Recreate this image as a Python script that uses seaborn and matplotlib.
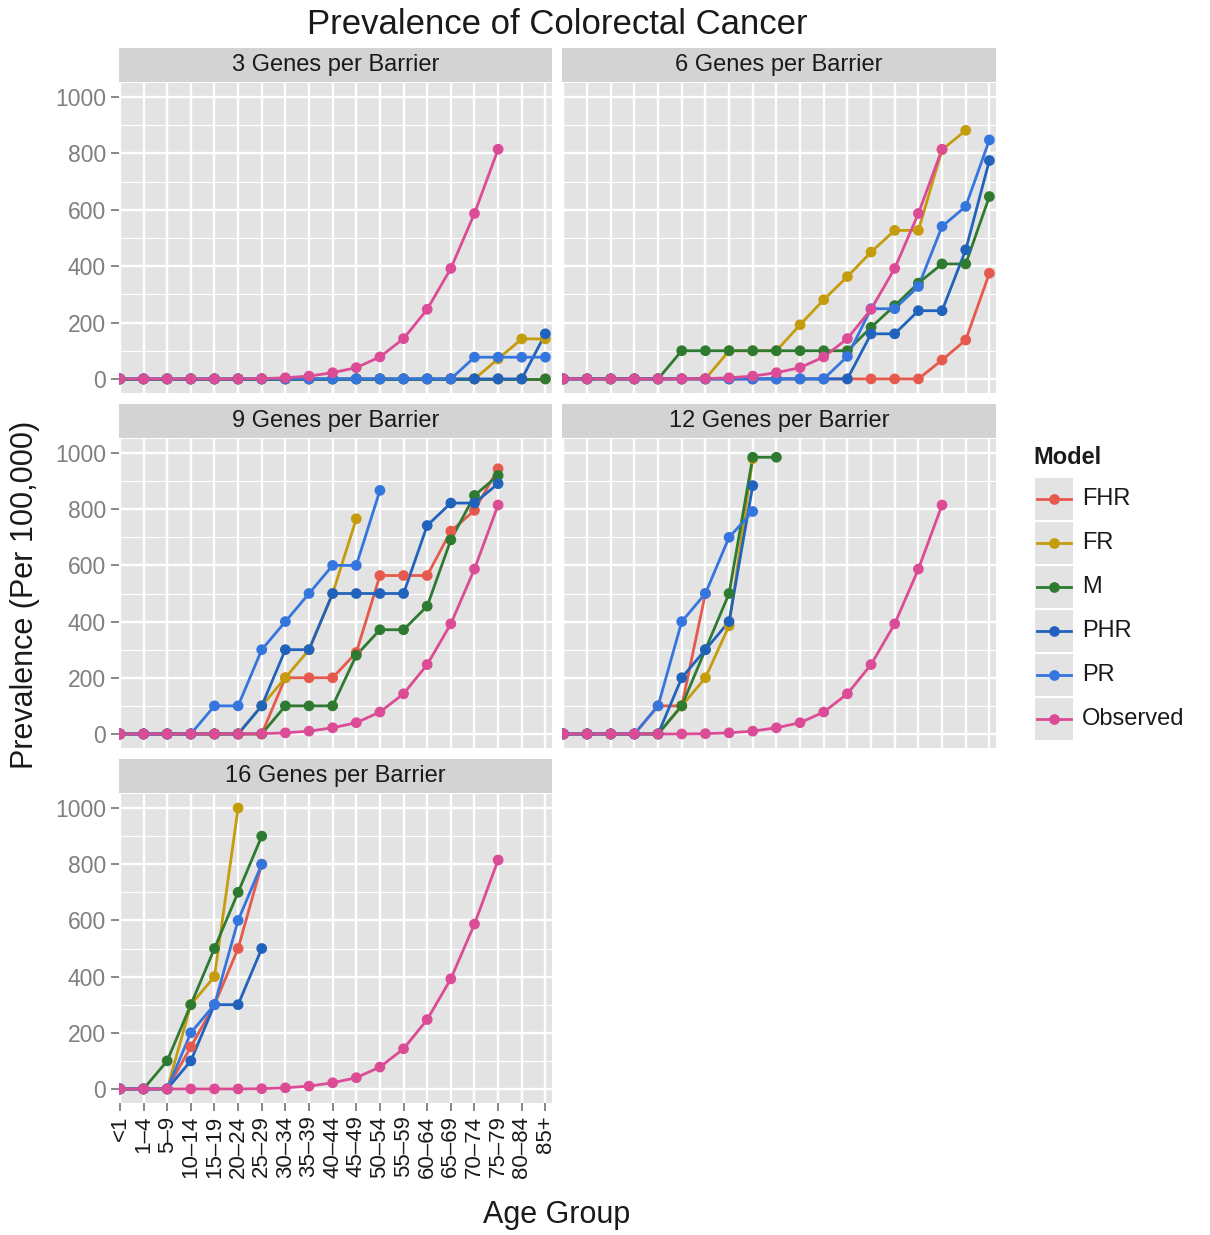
import numpy as np
import pandas as pd
import matplotlib
matplotlib.use("Agg")
import matplotlib.pyplot as plt
from matplotlib.patches import Rectangle
import seaborn as sns

plt.rcParams["font.family"] = ["Liberation Sans", "DejaVu Sans"]

nan = np.nan

# Age groups on the x axis
age_groups = ["<1", "1–4", "5–9", "10–14", "15–19", "20–24", "25–29", "30–34",
              "35–39", "40–44", "45–49", "50–54", "55–59", "60–64", "65–69",
              "70–74", "75–79", "80–84", "85+"]

models = ["FHR", "FR", "M", "PHR", "PR", "Observed"]
palette = {"FHR": "#E65A4E", "FR": "#C49C0E", "M": "#2E7A30",
           "PHR": "#2163BC", "PR": "#3575DE", "Observed": "#DC4B96"}

panel_titles = ["3 Genes per Barrier", "6 Genes per Barrier", "9 Genes per Barrier",
                "12 Genes per Barrier", "16 Genes per Barrier"]

# Observed prevalence (per 100,000), same in every panel
observed = [0, 0, 0, 0, 0, 0, 1, 4, 10, 22, 40, 78, 143, 247, 392, 587, 815, nan, nan]

# 3 genes per barrier
g3_fhr = [0] * 19
g3_fr = [0] * 16 + [71, 142, 142]
g3_m = [0] * 19
g3_phr = [0] * 18 + [160]
g3_pr = [0] * 15 + [77, 77, 77, 77]

# 6 genes per barrier
g6_fhr = [0] * 16 + [67, 138, 375]
g6_fr = [0] * 7 + [100, 100, 100, 192, 281, 363, 450, 527, 527, 813, 882, nan]
g6_m = [0] * 5 + [100] * 8 + [183, 260, 340, 408, 408, 647]
g6_phr = [0] * 13 + [160, 160, 242, 242, 458, 775]
g6_pr = [0] * 12 + [80, 249, 249, 328, 541, 612, 848]

# 9 genes per barrier
g9_fhr = [0] * 7 + [200, 200, 200, 290, 564, 564, 564, 722, 796, 944, nan, nan]
g9_fr = [0] * 6 + [100, 200, 300, 500, 766] + [nan] * 8
g9_m = [0] * 7 + [100, 100, 100, 280, 371, 371, 455, 691, 849, 920, nan, nan]
g9_phr = [0] * 6 + [100, 300, 300, 500, 500, 500, 500, 742, 822, 822, 891, nan, nan]
g9_pr = [0] * 4 + [100, 100, 300, 400, 500, 600, 600, 867] + [nan] * 7

# 12 genes per barrier
g12_fhr = [0] * 4 + [100, 100, 500] + [nan] * 12
g12_fr = [0] * 5 + [100, 200, 385, 980] + [nan] * 10
g12_m = [0] * 5 + [100, 300, 500, 985, 985] + [nan] * 9
g12_phr = [0] * 5 + [200, 300, 400, 884] + [nan] * 10
g12_pr = [0] * 4 + [100, 400, 500, 700, 792] + [nan] * 10

# 16 genes per barrier
g16_fhr = [0] * 3 + [150, 300, 500, 800] + [nan] * 12
g16_fr = [0] * 3 + [300, 400, 1000] + [nan] * 13
g16_m = [0] * 2 + [100, 300, 500, 700, 900] + [nan] * 12
g16_phr = [0] * 3 + [100, 300, 300, 500] + [nan] * 12
g16_pr = [0] * 3 + [200, 300, 600, 800] + [nan] * 12

panel_series = [
    [g3_fhr, g3_fr, g3_m, g3_phr, g3_pr, observed],
    [g6_fhr, g6_fr, g6_m, g6_phr, g6_pr, observed],
    [g9_fhr, g9_fr, g9_m, g9_phr, g9_pr, observed],
    [g12_fhr, g12_fr, g12_m, g12_phr, g12_pr, observed],
    [g16_fhr, g16_fr, g16_m, g16_phr, g16_pr, observed],
]

rows = []
for title, series in zip(panel_titles, panel_series):
    for model, vals in zip(models, series):
        for i, v in enumerate(vals):
            rows.append({"Panel": title, "Model": model, "pos": i,
                         "Age": age_groups[i], "Prevalence": v})
df = pd.DataFrame(rows).dropna()

W, H = 1210, 1235
fig = plt.figure(figsize=(W / 100, H / 100), dpi=100)


def rect(left, top, right, bottom):
    return [left / W, 1 - bottom / H, (right - left) / W, (bottom - top) / H]


col_x = [(118.5, 552), (562, 996)]
row_y = [(83, 393), (439, 748), (794, 1103)]
strip_h = 35
panel_bg = "#E3E3E3"
strip_bg = "#D3D3D3"

for k, title in enumerate(panel_titles):
    r, c = divmod(k, 2)
    left, right = col_x[c]
    top, bottom = row_y[r]

    # facet strip
    sax = fig.add_axes(rect(left, top - strip_h, right, top - 1))
    sax.set_facecolor(strip_bg)
    sax.set_xticks([]); sax.set_yticks([])
    for s in sax.spines.values():
        s.set_visible(False)
    sax.text(0.5, 0.5, title, ha="center", va="center", fontsize=17,
             color="#1A1A1A", transform=sax.transAxes)

    ax = fig.add_axes(rect(left, top, right, bottom))
    ax.set_facecolor(panel_bg)
    sub = df[df["Panel"] == title]
    sns.lineplot(data=sub, x="pos", y="Prevalence", hue="Model", hue_order=models,
                 palette=palette, linewidth=2.0, estimator=None, legend=False, ax=ax)
    sns.scatterplot(data=sub, x="pos", y="Prevalence", hue="Model", hue_order=models,
                    palette=palette, s=60, linewidth=0, legend=False, ax=ax, zorder=3)

    ax.set_xlim(-0.06, 18.28)
    ax.set_ylim(-50, 1050)
    ax.set_xticks(range(len(age_groups)))
    ax.set_yticks(range(0, 1001, 200))
    ax.set_yticks(range(100, 1000, 200), minor=True)
    ax.set_axisbelow(True)
    ax.grid(which="major", color="white", linewidth=1.7)
    ax.grid(which="minor", axis="y", color="white", linewidth=0.8)
    for s in ax.spines.values():
        s.set_visible(False)
    ax.set_xlabel("")
    ax.set_ylabel("")
    ax.tick_params(which="minor", length=0)

    if c == 0:
        ax.tick_params(axis="y", which="major", length=6, width=1.3, color="#7F7F7F",
                       labelsize=16.5, labelcolor="#7F7F7F", pad=3)
    else:
        ax.tick_params(axis="y", which="major", length=0, labelleft=False)

    if k == 4:
        ax.set_xticklabels(age_groups, rotation=90)
        ax.tick_params(axis="x", which="major", length=6, width=1.3, color="#7F7F7F",
                       labelsize=16, labelcolor="#1A1A1A", pad=3)
    else:
        ax.tick_params(axis="x", which="major", length=0, labelbottom=False)

fig.text(557 / W, 1 - 25 / H, "Prevalence of Colorectal Cancer", ha="center",
         va="center", fontsize=25, color="#1A1A1A")
fig.text(557 / W, 1 - 1215 / H, "Age Group", ha="center", va="center",
         fontsize=22, color="#1A1A1A")
fig.text(25 / W, 1 - 595 / H, "Prevalence (Per 100,000)", ha="center", va="center",
         rotation=90, fontsize=22, color="#1A1A1A")

# Legend: grey key boxes with a line-and-point glyph per model
lax = fig.add_axes(rect(1020, 430, 1210, 750))
lax.set_xlim(1020, 1210)
lax.set_ylim(750, 430)
lax.axis("off")
lax.text(1033, 457, "Model", fontsize=17, fontweight="bold", va="center",
         ha="left", color="#1A1A1A")
for i, m in enumerate(models):
    cy = 499 + 44 * i
    lax.add_patch(Rectangle((1035, cy - 21), 38, 42, facecolor=panel_bg,
                            edgecolor="none"))
    lax.plot([1037, 1071], [cy, cy], color=palette[m], linewidth=2.0)
    lax.plot([1054], [cy], marker="o", markersize=7.7, markeredgewidth=0,
             color=palette[m])
    lax.text(1082, cy, m, fontsize=17, va="center", ha="left", color="#1A1A1A")

fig.savefig("out.png", dpi=100, facecolor="white")
